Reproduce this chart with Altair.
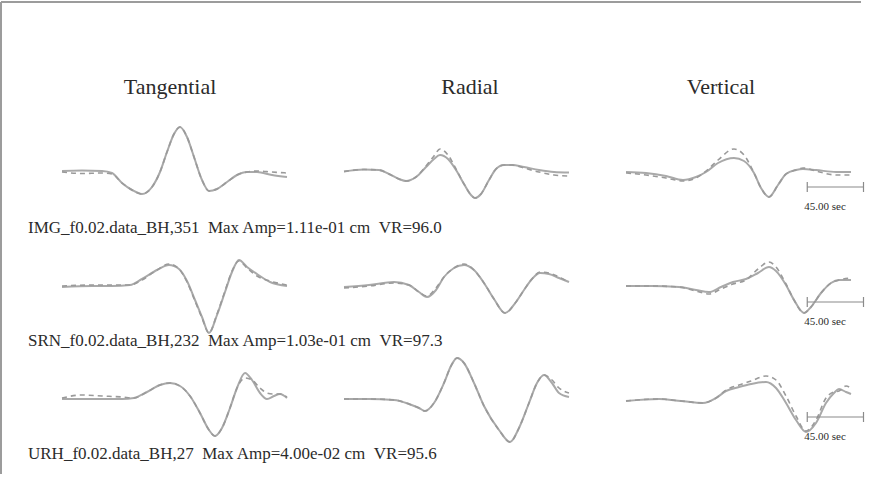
import altair as alt
import pandas as pd

components = ["Tangential", "Radial", "Vertical"]
stations = ["IMG_f0.02.data_BH,351", "SRN_f0.02.data_BH,232", "URH_f0.02.data_BH,27"]
max_amps = ["1.11e-01", "1.03e-01", "4.00e-02"]
var_red = ["96.0", "97.3", "95.6"]
scale_sec = 45.0
scale_start = 145.0

# ---- IMG ----
img_t_time = [0, 16, 32, 40, 48, 56, 64, 72, 78.4, 84, 89.6, 94.4, 100, 105.6, 112, 117.6, 124, 132, 140, 148, 156, 168, 180]
img_t_obs = [1, 1.5, 1, -1, -11, -18, -22, -15, 0, 20, 38, 45, 35, 15, -8, -19, -17, -10, -3, 0, 0, -3, -5]
img_t_syn = [0, -1.5, -1, -2, -11, -18, -22, -15, 0, 20, 38, 45, 35, 15, -8, -19, -17, -10, -3, 0, 1, 0, -1]

img_r_time = [0, 16, 28, 36, 44, 49.6, 57.6, 65.6, 72, 76.8, 83.2, 89.6, 96, 101.6, 104.8, 109.6, 116, 121.6, 128, 134.4, 144, 156, 168, 180]
img_r_obs = [0.5, 2.5, 2, -2, -7, -9, -5, 5, 13, 17, 13, 2, -12, -23, -26, -22, -8, 3, 7, 7, 5, 2, 0, -0.5]
img_r_syn = [0.5, 2.5, 2, -2, -7, -9, -5, 6, 16, 23, 17, 3, -12, -23, -26, -22, -8, 3, 7, 7, 4, 0, -3, -4]

img_v_time = [0, 16, 32, 45.6, 56, 64, 73.6, 86.4, 94.4, 102.4, 108, 114.4, 121.6, 128, 136, 141.6, 152, 168, 180]
img_v_obs = [0, -1, -4, -8, -5, 0, 9, 14, 11, -1, -16, -25, -13, -2, 2, 3, 2, 0, 0]
img_v_syn = [-1, -3, -6, -9, -6, 1, 12, 23, 17, -1, -16, -25, -13, -2, 2, 4, 1, -3, -3]

# ---- SRN ----
srn_t_time = [0, 24, 40, 54.4, 64, 76, 85.6, 93.6, 100, 106.4, 112, 117.6, 124, 130.4, 136, 141.6, 148, 156, 166.4, 180]
srn_t_obs = [-2, -1, -1, 0, 6, 15, 20, 16, 4, -15, -32, -48, -30, -7, 13, 25, 18, 11, 3, -1]
srn_t_syn = [-1, 0, 0, 0, 5, 15, 21, 16, 3, -16, -33, -48, -29, -6, 14, 24, 17, 9, 4, 0]

srn_r_time = [0, 20, 40, 52, 60, 66.4, 73.6, 80, 88, 96, 104, 112, 120, 128.8, 137.6, 144, 150.4, 156.8, 164, 172, 180]
srn_r_obs = [-2, 0, 3, 0, -7, -12, -5, 8, 17, 20, 15, 2, -14, -28, -17, -5, 6, 12, 11, 7, 3]
srn_r_syn = [-3, -1, 2, 0, -7, -11, -3, 8, 17, 21, 15, 2, -14, -28, -17, -5, 6, 13, 12, 8, 3]

srn_v_time = [0, 20, 42.4, 56, 66.4, 76, 85.6, 96, 105.6, 114.4, 120, 128, 134.4, 142.4, 148, 156, 164, 170.4, 180]
srn_v_obs = [-1, -1, -2, -5, -7, -2, 3, 6, 12, 18, 14, 0, -15, -28, -22, -8, 2, 5, 5]
srn_v_syn = [-1, -1, -2, -6, -9, -4, 1, 5, 16, 23, 18, 1, -15, -28, -22, -8, 2, 5, 7]

# ---- URH ----
urh_t_time = [0, 16, 32, 48, 57.6, 68, 78.4, 86.4, 94.4, 102.4, 110.4, 117.6, 122.4, 128, 134.4, 140, 146.4, 152, 158.4, 164, 169.6, 174.4, 180]
urh_t_obs = [-1, -1, -1, -1, 0, 6, 13, 15, 12, 2, -15, -32, -38, -30, -10, 10, 25, 18, 5, -1, 2, 4, 0]
urh_t_syn = [0, 3, 2, 1, 0, 6, 13, 15, 12, 2, -15, -32, -38, -30, -10, 10, 20, 18, 10, 5, 4, 4, 1]

urh_r_time = [0, 20, 40, 52, 60, 64.8, 72, 80, 85.6, 90.4, 96, 104, 112, 124, 132.8, 140, 148, 154.4, 160, 166.4, 172, 180]
urh_r_obs = [-1, -1, -2, -6, -10, -13, -5, 15, 32, 40, 35, 15, -8, -32, -44, -30, -5, 15, 23, 15, 5, 1]
urh_r_syn = [-1, -1, -2, -6, -10, -13, -5, 15, 32, 40, 35, 15, -8, -32, -44, -30, -5, 15, 23, 18, 10, 5]

urh_v_time = [0, 26.4, 44, 61.6, 72, 80, 90.4, 100, 112, 120, 128, 136, 144, 152, 160, 166.4, 170.4, 176, 180]
urh_v_obs = [-3, -1, -3, -5, 0, 7, 11, 14, 16, 10, -5, -22, -34, -25, -5, 5, 9, 6, 4]
urh_v_syn = [-3, -1, -3, -5, 0, 8, 13, 17, 22, 18, 2, -18, -33, -22, 0, 6, 7, 12, 10]

traces = [
    [(img_t_time, img_t_obs, img_t_syn), (img_r_time, img_r_obs, img_r_syn), (img_v_time, img_v_obs, img_v_syn)],
    [(srn_t_time, srn_t_obs, srn_t_syn), (srn_r_time, srn_r_obs, srn_r_syn), (srn_v_time, srn_v_obs, srn_v_syn)],
    [(urh_t_time, urh_t_obs, urh_t_syn), (urh_r_time, urh_r_obs, urh_r_syn), (urh_v_time, urh_v_obs, urh_v_syn)],
]

W, H = 225, 100
FONT = "Liberation Serif"
LINE = "#a9a9a9"
TEXT = "#2b2b2b"
xs = alt.Scale(domain=[0, 180])
ys = alt.Scale(domain=[-50, 50])

title_x = [108, 126, 95]
bar_y = [65, 67, 69]


def panel(r, c):
    t, obs, syn = traces[r][c]
    n = len(t)
    df = pd.DataFrame({"t": t + t, "amp": obs + syn,
                       "trace": ["obs"] * n + ["syn"] * n})
    base = alt.Chart(df).encode(
        x=alt.X("t:Q", scale=xs, axis=None),
        y=alt.Y("amp:Q", scale=ys, axis=None),
    )
    layers = [
        base.transform_filter(alt.datum.trace == "obs").mark_line(
            color=LINE, strokeWidth=2, interpolate="monotone"),
        base.transform_filter(alt.datum.trace == "syn").mark_line(
            color="#9a9a9a", strokeWidth=1.6, strokeDash=[5, 4], interpolate="monotone"),
    ]
    if r == 0:
        tdf = pd.DataFrame({"name": [components[c]]})
        layers.append(alt.Chart(tdf).mark_text(
            font=FONT, fontSize=22, color=TEXT, align="center", baseline="middle"
        ).encode(x=alt.value(title_x[c]), y=alt.value(-35), text="name:N"))
    if c == 0:
        ldf = pd.DataFrame({"lab": [f"{stations[r]} \u00a0Max Amp={max_amps[r]} cm \u00a0VR={var_red[r]}"]})
        layers.append(alt.Chart(ldf).mark_text(
            font=FONT, fontSize=17, color=TEXT, align="left", baseline="middle"
        ).encode(x=alt.value(-34), y=alt.value(106), text="lab:N"))
    if c == 2:
        bdf = pd.DataFrame({"t0": [scale_start], "t1": [scale_start + scale_sec],
                            "lab": [f"{scale_sec:.2f} sec"]})
        by = bar_y[r]
        bb = alt.Chart(bdf)
        layers += [
            bb.mark_rule(color="#8a8a8a", strokeWidth=1.2).encode(
                x=alt.X("t0:Q", scale=xs, axis=None), x2="t1:Q", y=alt.value(by)),
            bb.mark_rule(color="#8a8a8a", strokeWidth=1.2).encode(
                x=alt.X("t0:Q", scale=xs, axis=None), y=alt.value(by - 5), y2=alt.value(by + 5)),
            bb.mark_rule(color="#8a8a8a", strokeWidth=1.2).encode(
                x=alt.X("t1:Q", scale=xs, axis=None), y=alt.value(by - 5), y2=alt.value(by + 5)),
            bb.mark_text(font=FONT, fontSize=11, color=TEXT, align="left", baseline="middle", dx=-3).encode(
                x=alt.X("t0:Q", scale=xs, axis=None), y=alt.value(by + 20), text="lab:N"),
        ]
    if r == 0 and c == 0:
        fdf = pd.DataFrame({"k": ["frame"]})
        fr = alt.Chart(fdf)
        layers += [
            fr.mark_rule(color="#9c9c9c", strokeWidth=2).encode(
                x=alt.value(-61), x2=alt.value(799), y=alt.value(-120)),
            fr.mark_rule(color="#9c9c9c", strokeWidth=2).encode(
                x=alt.value(-61), y=alt.value(-120), y2=alt.value(352)),
        ]
    return alt.layer(*layers).properties(width=W, height=H)


panels = [panel(r, c) for r in range(3) for c in range(3)]
chart = alt.concat(*panels, columns=3, spacing=alt.RowColnumber(row=13, column=57),
                   bounds="flush").properties(
    padding={"left": 0, "top": 1, "right": 0, "bottom": 0},
    background="white",
).configure_view(stroke=None)

chart.save("out.html", embed_options={"renderer": "svg", "actions": False})
